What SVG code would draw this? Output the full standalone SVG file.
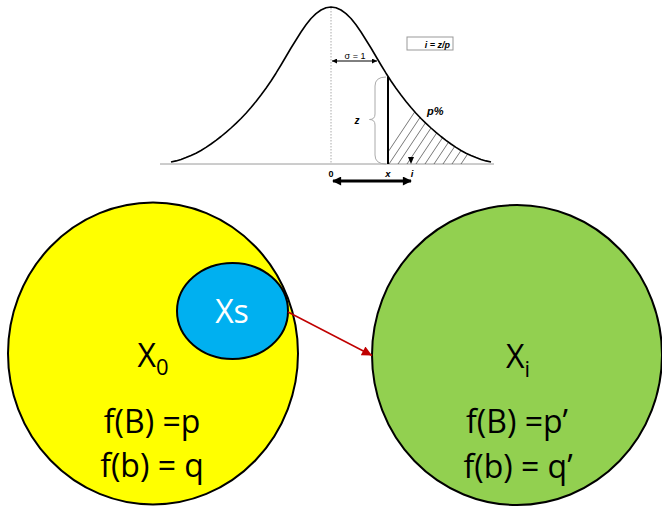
<svg xmlns="http://www.w3.org/2000/svg" width="662" height="508" viewBox="0 0 662 508">
<style>
.lbl{font-family:"Liberation Sans",Arial,sans-serif;fill:#000}
.bi{font-weight:bold;font-style:italic}
.big{font-family:"Open Sans","Noto Sans",sans-serif;font-size:32px;fill:#000;text-anchor:middle}
.node{stroke:#000;stroke-width:2}
</style>
<defs>
<marker id="ah" viewBox="0 0 10 10" refX="10" refY="5" markerWidth="5" markerHeight="5" orient="auto-start-reverse" markerUnits="userSpaceOnUse">
<path d="M0,0 L10,5 L0,10 Z" fill="#000"/>
</marker>
<marker id="ahb" viewBox="0 0 10 10" refX="9" refY="5" markerWidth="11" markerHeight="9" orient="auto-start-reverse" markerUnits="userSpaceOnUse">
<path d="M0,0 L10,5 L0,10 Z" fill="#000"/>
</marker>
<marker id="ahr" viewBox="0 0 10 10" refX="10" refY="5" markerWidth="12" markerHeight="10" orient="auto" markerUnits="userSpaceOnUse">
<path d="M0,0 L10,5 L0,10 Z" fill="#C00000"/>
</marker>
<clipPath id="tail">
<path d="M388,164 L388,76.4 L391,81 L396,88.2 L401,95 L406,101.4 L411,107.5 L416,113.2 L421,118.5 L426,123.4 L431,128 L436,132.4 L441,136.5 L446,140.4 L451,144 L456,147.4 L461,150.5 L466,153.2 L471,155.5 L476,157.6 L481,159.5 L486,160.9 L491,162 L491,164 Z"/>
</clipPath>
</defs>
<g id="bell-chart">
<line x1="160" y1="164" x2="494" y2="164" stroke="#9a9a9a" stroke-width="1"/>
<line x1="331" y1="8" x2="331" y2="164" stroke="#aaa" stroke-width="1" stroke-dasharray="1.5,1.5"/>
<g clip-path="url(#tail)" stroke="#555" stroke-width="0.8">
<line x1="380" y1="164" x2="440" y2="74"/>
<line x1="389" y1="164" x2="449" y2="74"/>
<line x1="398" y1="164" x2="458" y2="74"/>
<line x1="407" y1="164" x2="467" y2="74"/>
<line x1="416" y1="164" x2="476" y2="74"/>
<line x1="425" y1="164" x2="485" y2="74"/>
<line x1="434" y1="164" x2="494" y2="74"/>
<line x1="443" y1="164" x2="503" y2="74"/>
<line x1="452" y1="164" x2="512" y2="74"/>
<line x1="461" y1="164" x2="521" y2="74"/>
</g>
<polyline fill="none" stroke="#000" stroke-width="1.6" stroke-linejoin="round" points="171,162 176,160.9 181,159.5 186,157.6 191,155.5 196,153.2 201,150.5 206,147.4 211,144 216,140.4 221,136.5 226,132.4 231,128 236,123.4 241,118.5 246,113.2 251,107.5 256,101.4 261,95 266,88.2 271,81 276,73.2 281,65 286,56.5 291,48 296,40 301,32 306,24.8 311,18.5 316,13.6 321,10 326,7.8 331,7 336,7.8 341,10 346,13.6 351,18.5 356,24.8 361,32 366,40 371,48 376,56.5 381,65 386,73.2 391,81 396,88.2 401,95 406,101.4 411,107.5 416,113.2 421,118.5 426,123.4 431,128 436,132.4 441,136.5 446,140.4 451,144 456,147.4 461,150.5 466,153.2 471,155.5 476,157.6 481,159.5 486,160.9 491,162"/>
<line x1="388" y1="76.4" x2="388" y2="164" stroke="#000" stroke-width="2"/>
<path d="M386,77 Q375,77 375,86 L375,114 Q375,119.5 369.5,119.5 Q375,119.5 375,125 L375,155 Q375,164 386,164" fill="none" stroke="#aaa" stroke-width="1"/>
<line x1="332" y1="61" x2="377" y2="61" stroke="#000" stroke-width="1" marker-start="url(#ah)" marker-end="url(#ah)"/>
<text class="lbl" x="355" y="58.5" font-size="9" text-anchor="middle">σ = 1</text>
<rect x="407" y="37" width="46" height="13" fill="#fff" stroke="#999" stroke-width="1"/>
<text class="lbl bi" x="450" y="47.5" font-size="9" text-anchor="end">i = z/p</text>
<text class="lbl bi" x="357" y="124" font-size="10" text-anchor="middle">z</text>
<text class="lbl bi" x="427" y="115" font-size="11">p%</text>
<polygon points="408,157 414,157 411,164" fill="#000"/>
<text class="lbl" x="331" y="176.5" font-size="9" font-weight="bold" text-anchor="middle">0</text>
<text class="lbl bi" x="388" y="176.5" font-size="9.5" text-anchor="middle">x</text>
<text class="lbl bi" x="412" y="176.5" font-size="9.5" text-anchor="middle">i</text>
<line x1="333" y1="181" x2="411" y2="181" stroke="#000" stroke-width="3" marker-start="url(#ahb)" marker-end="url(#ahb)"/>
</g>
<g id="X0">
<ellipse class="node" cx="153" cy="353.5" rx="145" ry="151" fill="#FFFF00"/>
<text class="big" x="153" y="367">X<tspan font-size="22" dy="8">0</tspan></text>
<text class="big" x="152" y="433">f(B) =p</text>
<text class="big" x="152" y="477">f(b) = q</text>
</g>
<g id="Xs">
<ellipse class="node" cx="232.5" cy="311" rx="55.5" ry="48" fill="#00B0F0"/>
<text class="big" x="232" y="323" style="fill:#fff">Xs</text>
</g>
<g id="Xi">
<ellipse class="node" cx="517" cy="355" rx="145" ry="150" fill="#92D050"/>
<text class="big" x="518" y="368">X<tspan font-size="22" dy="9">i</tspan></text>
<text class="big" x="517" y="433">f(B) =p’</text>
<text class="big" x="518" y="478">f(b) = q’</text>
</g>
<g id="connectors">
<line x1="288" y1="312" x2="372" y2="355.5" stroke="#C00000" stroke-width="1.5" marker-end="url(#ahr)"/>
</g>
</svg>
